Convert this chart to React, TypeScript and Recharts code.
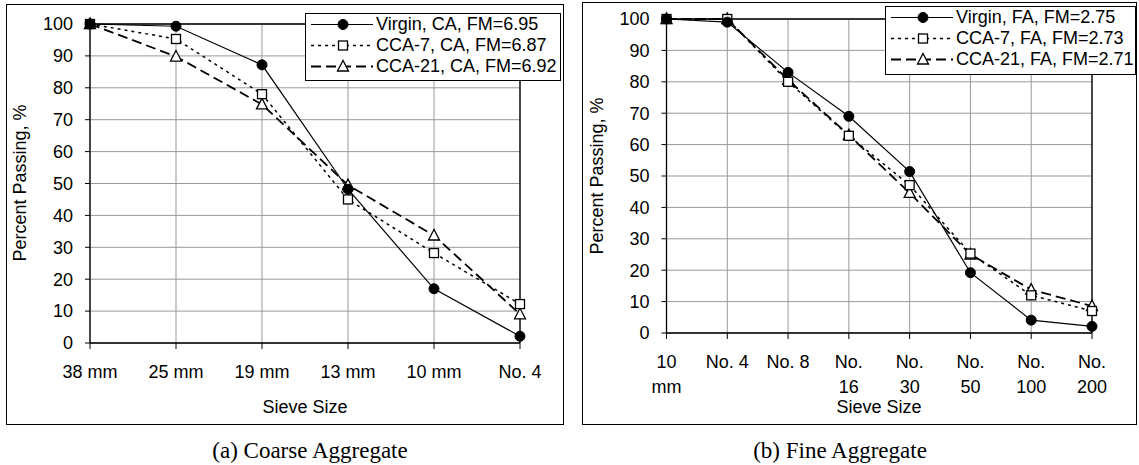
import React from 'react';
import { LineChart, Line, XAxis, YAxis, CartesianGrid, ReferenceLine } from 'recharts';

const FONT = '"Liberation Sans", Arial, Helvetica, sans-serif';
const SERIF = '"Liberation Serif", "Times New Roman", serif';

// ---------- data ----------
const coarseSieves = ['38 mm', '25 mm', '19 mm', '13 mm', '10 mm', 'No. 4'];
const coarseVirgin = [100, 99.3, 87.2, 48.2, 17, 2.1];
const coarseCCA7 = [100, 95.3, 78, 45, 28.2, 12.2];
const coarseCCA21 = [100, 89.8, 74.8, 49.5, 33.7, 9];
const coarseLegend = ['Virgin, CA, FM=6.95', 'CCA-7, CA, FM=6.87', 'CCA-21, CA, FM=6.92'];

const fineSieves = ['10\nmm', 'No. 4', 'No. 8', 'No.\n16', 'No.\n30', 'No.\n50', 'No.\n100', 'No.\n200'];
const fineVirgin = [100, 99, 83, 69, 51.4, 19.2, 4.1, 2.1];
const fineCCA7 = [100, 100, 80, 62.8, 47.1, 25.3, 12, 7];
const fineCCA21 = [100, 100, 80.6, 63, 44.6, 25, 13.8, 8.6];
const fineLegend = ['Virgin, FA, FM=2.75', 'CCA-7, FA, FM=2.73', 'CCA-21, FA, FM=2.71'];

const yTicks = [0, 10, 20, 30, 40, 50, 60, 70, 80, 90, 100];
const yTitle = 'Percent Passing, %';
const xTitle = 'Sieve Size';
const captions = ['(a) Coarse Aggregate', '(b) Fine Aggregate'];

const buildRows = (cats: string[], v: number[], a: number[], b: number[]) =>
  cats.map((c, i) => ({ sieve: c, virgin: v[i], cca7: a[i], cca21: b[i] }));

const coarseData = buildRows(coarseSieves, coarseVirgin, coarseCCA7, coarseCCA21);
const fineData = buildRows(fineSieves, fineVirgin, fineCCA7, fineCCA21);

// ---------- markers ----------
const circleDot = (p: any) => (
  <circle key={`c-${p.index}`} cx={p.cx} cy={p.cy} r={5} fill="#000" stroke="#000" strokeWidth={1} />
);
const squareDot = (p: any) => (
  <rect key={`s-${p.index}`} x={p.cx - 4.5} y={p.cy - 4.5} width={9} height={9} fill="#fff" stroke="#000" strokeWidth={1.3} />
);
const triangleDot = (p: any) => (
  <polygon
    key={`t-${p.index}`}
    points={`${p.cx},${p.cy - 6} ${p.cx - 5.5},${p.cy + 4.5} ${p.cx + 5.5},${p.cy + 4.5}`}
    fill="#fff"
    stroke="#000"
    strokeWidth={1.3}
  />
);

const renderXTick = (props: any) => {
  const { x, y, payload } = props;
  const lines = String(payload.value).split('\n');
  return (
    <text x={x} y={y} textAnchor="middle" fill="#000" fontSize={18} fontFamily={FONT}>
      {lines.map((l, i) => (
        <tspan key={i} x={x} dy={i === 0 ? 29 : 25}>
          {l}
        </tspan>
      ))}
    </text>
  );
};

const seriesStyles = [
  { key: 'virgin', dash: undefined as string | undefined, width: 1.2 },
  { key: 'cca7', dash: '3 4', width: 1.5 },
  { key: 'cca21', dash: '10 5', width: 1.8 },
];

function LegendSample({ idx }: { idx: number }) {
  const s = seriesStyles[idx];
  return (
    <svg width={62} height={21} style={{ position: 'absolute', left: 5, top: 0 }}>
      <line x1={0} y1={10.5} x2={62} y2={10.5} stroke="#000" strokeWidth={s.width} strokeDasharray={s.dash} />
      {idx === 0 && circleDot({ cx: 32, cy: 10.5, index: 0 })}
      {idx === 1 && squareDot({ cx: 32, cy: 10.5, index: 0 })}
      {idx === 2 && triangleDot({ cx: 32, cy: 10.5, index: 0 })}
    </svg>
  );
}

function LegendBox({ names, left, top, width, height }: { names: string[]; left: number; top: number; width: number; height: number }) {
  return (
    <div
      style={{
        position: 'absolute',
        left,
        top,
        width,
        height,
        boxSizing: 'border-box',
        border: '1px solid #000',
        background: '#fff',
      }}
    >
      {names.map((n, i) => (
        <div key={n} style={{ position: 'absolute', left: 0, top: i * 21, height: 21, width: '100%' }}>
          <LegendSample idx={i} />
          <div
            style={{
              position: 'absolute',
              left: 70,
              top: 0,
              lineHeight: '21px',
              fontSize: 18,
              fontFamily: FONT,
              whiteSpace: 'nowrap',
              color: '#000',
            }}
          >
            {n}
          </div>
        </div>
      ))}
    </div>
  );
}

type PanelProps = {
  data: any[];
  cats: string[];
  left: number;
  top: number;
  width: number;
  height: number;
  margin: { top: number; right: number; bottom: number; left: number };
};

function Panel({ data, cats, left, top, width, height, margin }: PanelProps) {
  return (
    <div style={{ position: 'absolute', left, top, width, height }}>
      <div
        style={{
          position: 'absolute',
          left: 0,
          top: 0,
          width,
          height,
          boxSizing: 'border-box',
          border: '1px solid #000',
        }}
      />
      <div style={{ position: 'absolute', left: 0, top: 0 }}>
        <LineChart width={width} height={height} data={data} margin={margin}>
          <CartesianGrid stroke="#999" strokeWidth={1} />
          <XAxis
            dataKey="sieve"
            interval={0}
            tickSize={6}
            tickMargin={0}
            height={60}
            axisLine={{ stroke: '#000', strokeWidth: 1.3 }}
            tickLine={{ stroke: '#000' }}
            tick={renderXTick}
          />
          <YAxis
            type="number"
            domain={[0, 100]}
            ticks={yTicks}
            interval={0}
            width={60}
            tickSize={5}
            tickMargin={12}
            axisLine={{ stroke: '#000', strokeWidth: 1.3 }}
            tickLine={{ stroke: '#000' }}
            tick={{ fill: '#000', fontSize: 18, fontFamily: FONT }}
          />
          <ReferenceLine y={100} stroke="#000" strokeWidth={1.3} />
          <ReferenceLine x={cats[cats.length - 1]} stroke="#000" strokeWidth={1.3} />
          <Line dataKey="cca21" stroke="#000" strokeWidth={1.8} strokeDasharray="10 5" dot={triangleDot} isAnimationActive={false} />
          <Line dataKey="cca7" stroke="#000" strokeWidth={1.5} strokeDasharray="3 4" dot={squareDot} isAnimationActive={false} />
          <Line dataKey="virgin" stroke="#000" strokeWidth={1.2} dot={circleDot} isAnimationActive={false} />
        </LineChart>
      </div>
    </div>
  );
}

const textAt = (txt: string, cx: number, cy: number, size: number, family: string, rotate = false) => (
  <div
    style={{
      position: 'absolute',
      left: cx,
      top: cy,
      transform: `translate(-50%, -50%)${rotate ? ' rotate(-90deg)' : ''}`,
      fontSize: size,
      fontFamily: family,
      whiteSpace: 'nowrap',
      color: '#000',
      lineHeight: 1,
    }}
  >
    {txt}
  </div>
);

export default function App() {
  return (
    <div style={{ position: 'absolute', left: 0, top: 0, width: 1139, height: 465, background: '#fff', overflow: 'hidden' }}>
      <Panel
        data={coarseData}
        cats={coarseSieves}
        left={6}
        top={4}
        width={558}
        height={421}
        margin={{ top: 20, right: 44, bottom: 22, left: 24 }}
      />
      <Panel
        data={fineData}
        cats={fineSieves}
        left={582}
        top={2}
        width={555}
        height={423}
        margin={{ top: 17, right: 45, bottom: 32, left: 24.5 }}
      />
      <LegendBox names={coarseLegend} left={305} top={13} width={256} height={68} />
      <LegendBox names={fineLegend} left={885} top={6} width={251} height={69} />
      {textAt(yTitle, 20, 183, 18, FONT, true)}
      {textAt(yTitle, 597, 176, 18, FONT, true)}
      {textAt(xTitle, 305, 407, 18, FONT)}
      {textAt(xTitle, 879, 407, 18, FONT)}
      {textAt(captions[0], 310, 450, 23, SERIF)}
      {textAt(captions[1], 840, 450, 23, SERIF)}
    </div>
  );
}
